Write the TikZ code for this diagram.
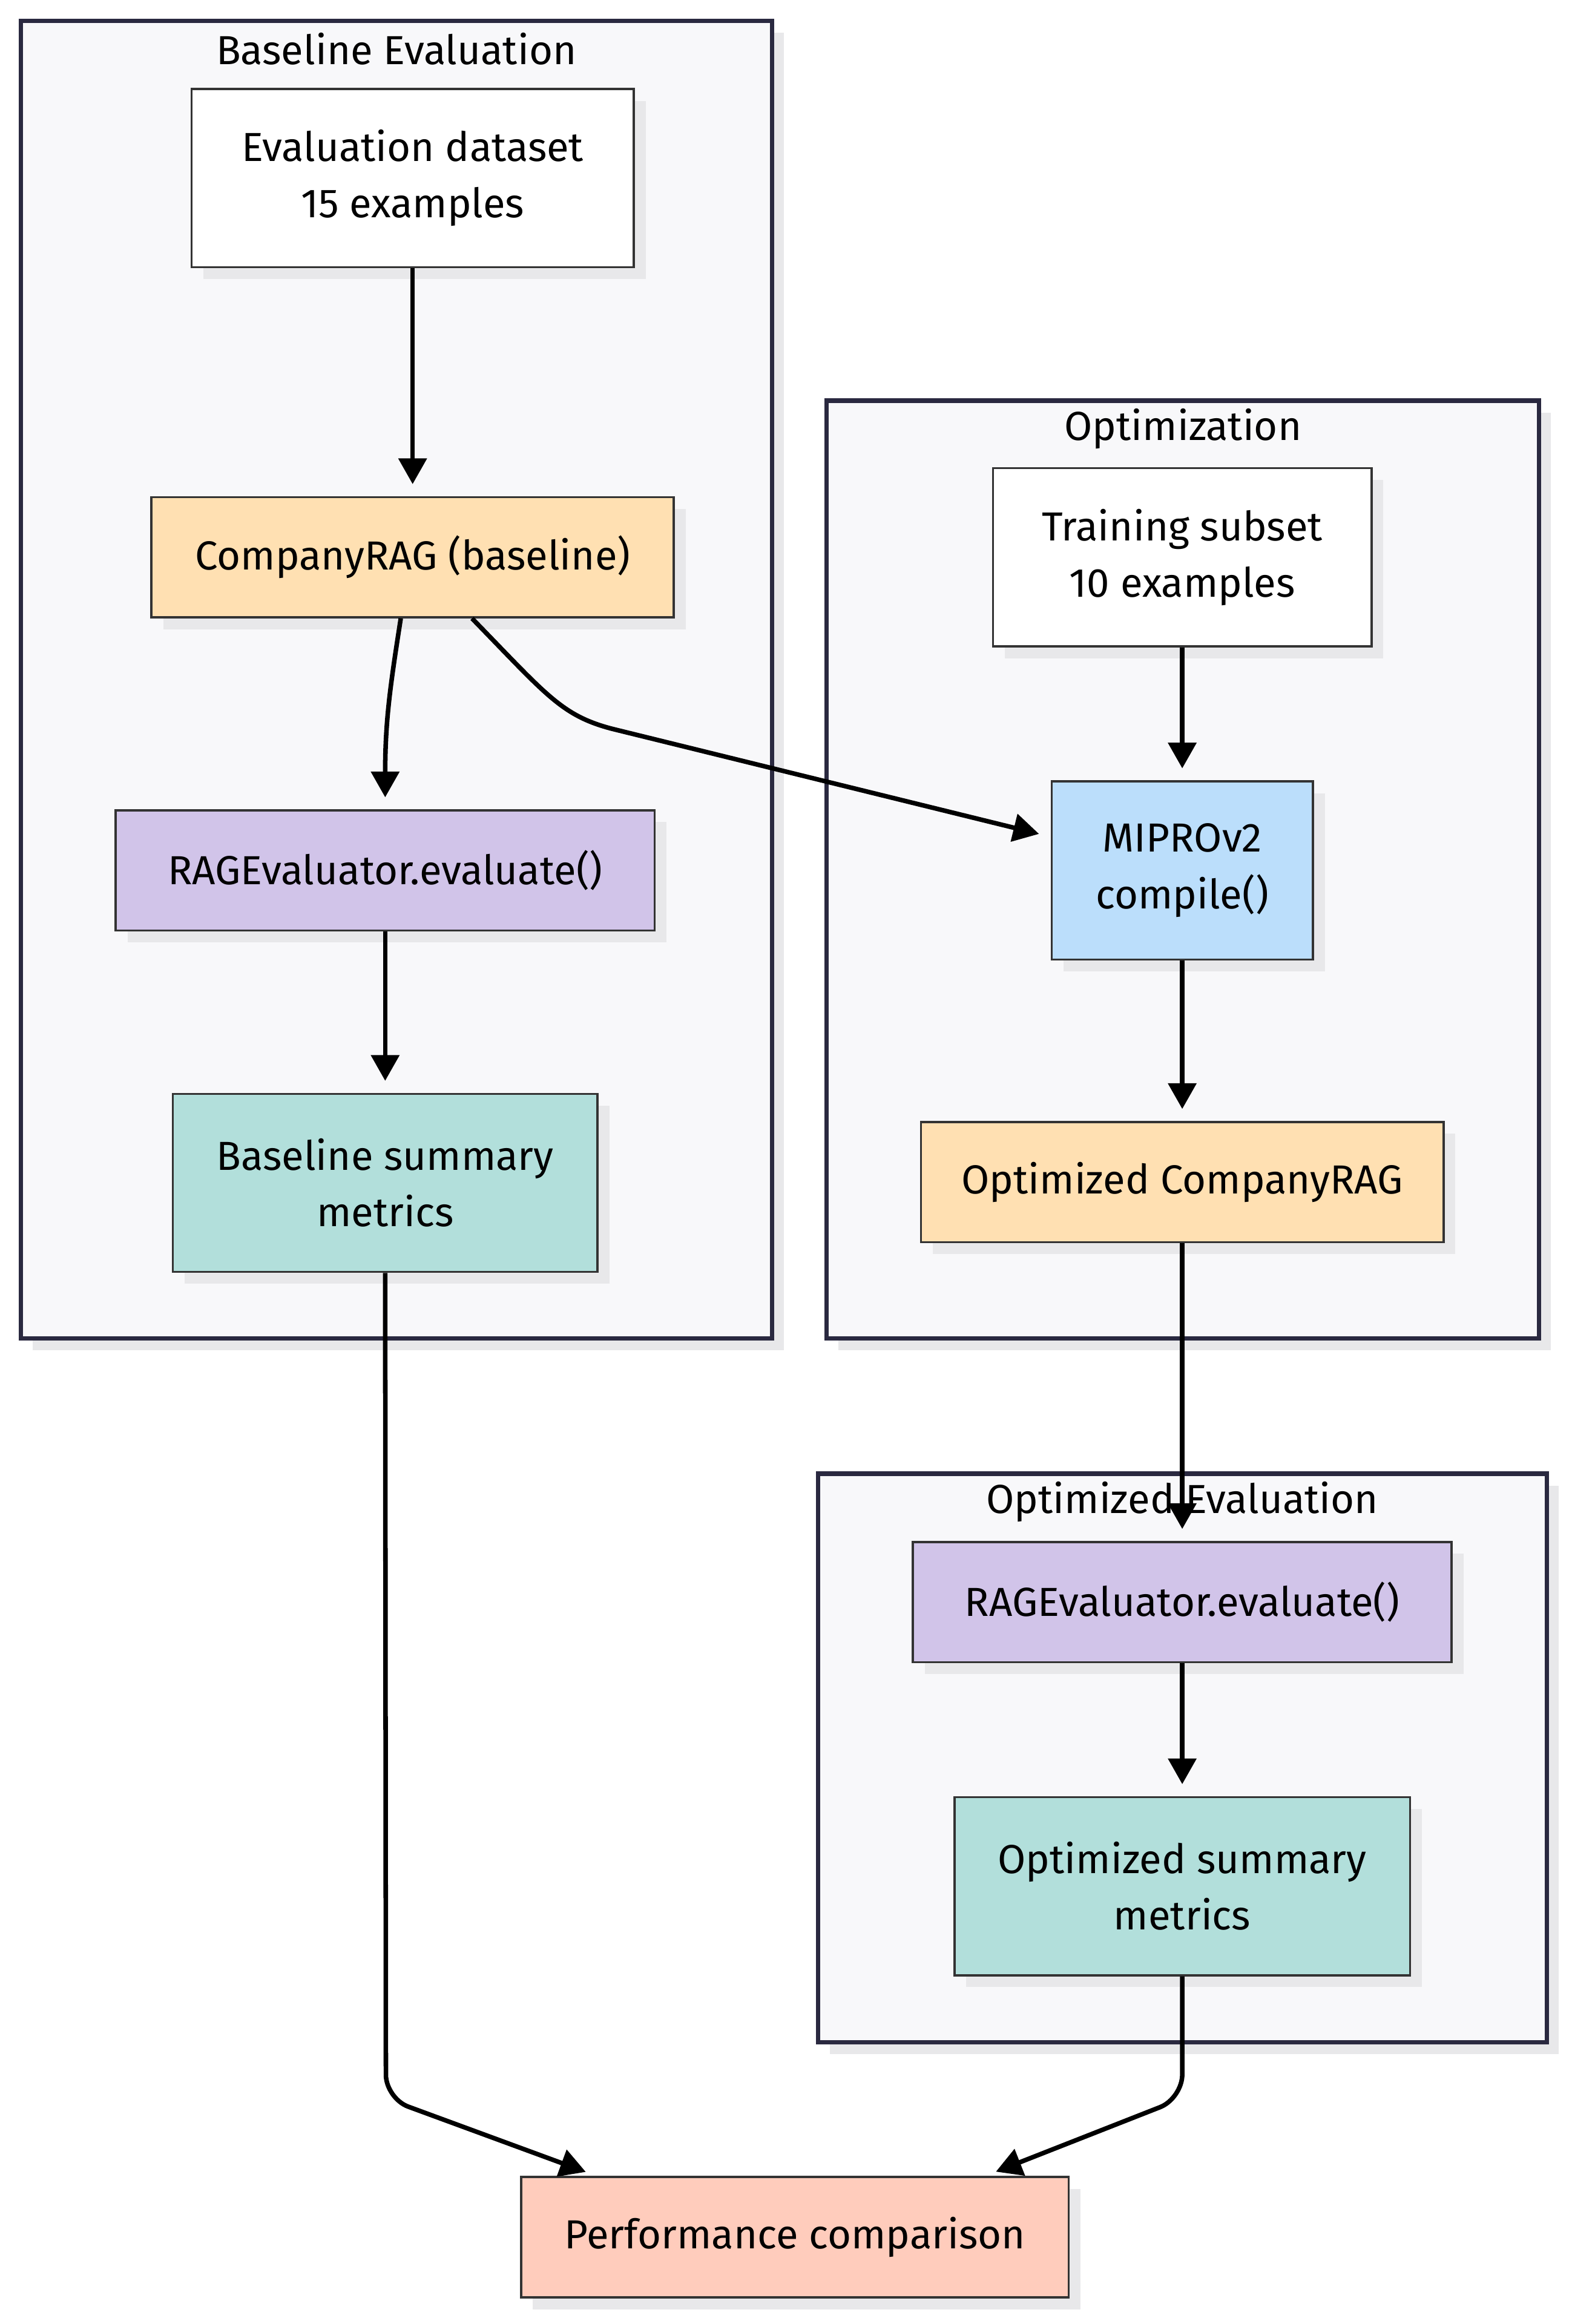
\documentclass[tikz,border=0pt]{standalone}
\usepackage{fontspec}
\setmainfont{Fira Sans}
\usetikzlibrary{arrows.meta,positioning,shadows}

\definecolor{clusterfill}{HTML}{F8F8FA}
\definecolor{clusterline}{HTML}{2A2940}
\definecolor{shadowgray}{HTML}{E8E8EA}
\definecolor{ragorange}{HTML}{FFE0B2}
\definecolor{evalpurple}{HTML}{D1C4E9}
\definecolor{metricteal}{HTML}{B2DFDB}
\definecolor{optblue}{HTML}{BBDEFB}
\definecolor{compsalmon}{HTML}{FFCCBC}

\tikzset{
  softshadow/.style={drop shadow={shadow xshift=6pt, shadow yshift=-6pt, fill=shadowgray, opacity=1}},
  box/.style={draw=black!80, line width=1.1pt, fill=white, align=center, inner sep=0pt, softshadow},
  oneline/.style={box, minimum height=60.75pt},
  twoline/.style={box, minimum height=90pt},
  cluster/.style={draw=clusterline, line width=2.2pt, fill=clusterfill, softshadow},
  flow/.style={-{Triangle[length=13pt,width=14pt]}, line width=2.3pt, shorten >=6pt},
}

\begin{document}
\begin{tikzpicture}[x=0.75pt, y=-0.75pt, font=\fontsize{20.5}{28.5}\selectfont]
  \useasboundingbox (0,0) rectangle (1059,1566);

  % subgraph frames
  \draw[cluster] (14,14) rectangle (520,902);
  \draw[cluster] (557,270) rectangle (1037,902);
  \draw[cluster] (551,993) rectangle (1042,1376);
  \node (basetitle) at (267,33)    {Baseline Evaluation};
  \node (opttitle)  at (797,289)   {Optimization};
  \node (evaltitle) at (796.5,1012) {Optimized Evaluation};

  % baseline evaluation
  \node[twoline, minimum width=223.5pt] (evalset) at (278,120) {Evaluation dataset\\15 examples};
  \node[oneline, minimum width=264pt, fill=ragorange] (ragbase) [below of=evalset, node distance=191.6pt] {CompanyRAG (baseline)};
  \node[oneline, minimum width=272.25pt, fill=evalpurple] (evalleft) at (259.5,586.5) {RAGEvaluator.evaluate()};
  \node[twoline, minimum width=214.5pt, fill=metricteal] (basesum) [below of=evalleft, node distance=157.9pt] {Baseline summary\\metrics};

  % optimization
  \node[twoline, minimum width=191.25pt] (trainset) at (796.5,375.5) {Training subset\\10 examples};
  \node[twoline, minimum width=132pt, fill=optblue] (mipro) [below of=trainset, node distance=158.25pt] {MIPROv2\\compile()};
  \node[oneline, minimum width=264pt, fill=ragorange] (optrag) [below of=mipro, node distance=157.5pt] {Optimized CompanyRAG};

  % optimized evaluation
  \node[oneline, minimum width=272.25pt, fill=evalpurple] (evalright) at (796.5,1079.5) {RAGEvaluator.evaluate()};
  \node[twoline, minimum width=230.25pt, fill=metricteal] (optsum) [below of=evalright, node distance=143.6pt] {Optimized summary\\metrics};

  \node[oneline, minimum width=276.75pt, fill=compsalmon] (perf) at (535.5,1507.5) {Performance comparison};

  % connectors
  \draw[flow] (evalset) -- (ragbase);
  \draw[flow] ([xshift=-6pt]ragbase.south) .. controls +(-7,45) and +(0,-60) .. (evalleft.north);
  \draw[flow] ([xshift=30pt]ragbase.south) .. controls (368,468) and (378,482) .. (412,491) -- ([yshift=17pt]mipro.west);
  \draw[flow] (evalleft) -- (basesum);
  \draw[flow] (trainset) -- (mipro);
  \draw[flow] (mipro) -- (optrag);
  \draw[flow] (optrag) -- (evalright);
  \draw[flow] (evalright) -- (optsum);
  \draw[flow, rounded corners=12pt] (basesum.south) -- (260,1414) -- ([xshift=-100pt]perf.north);
  \draw[flow, rounded corners=12pt] (optsum.south) -- (796.5,1414) -- ([xshift=96pt]perf.north);
\end{tikzpicture}
\end{document}
